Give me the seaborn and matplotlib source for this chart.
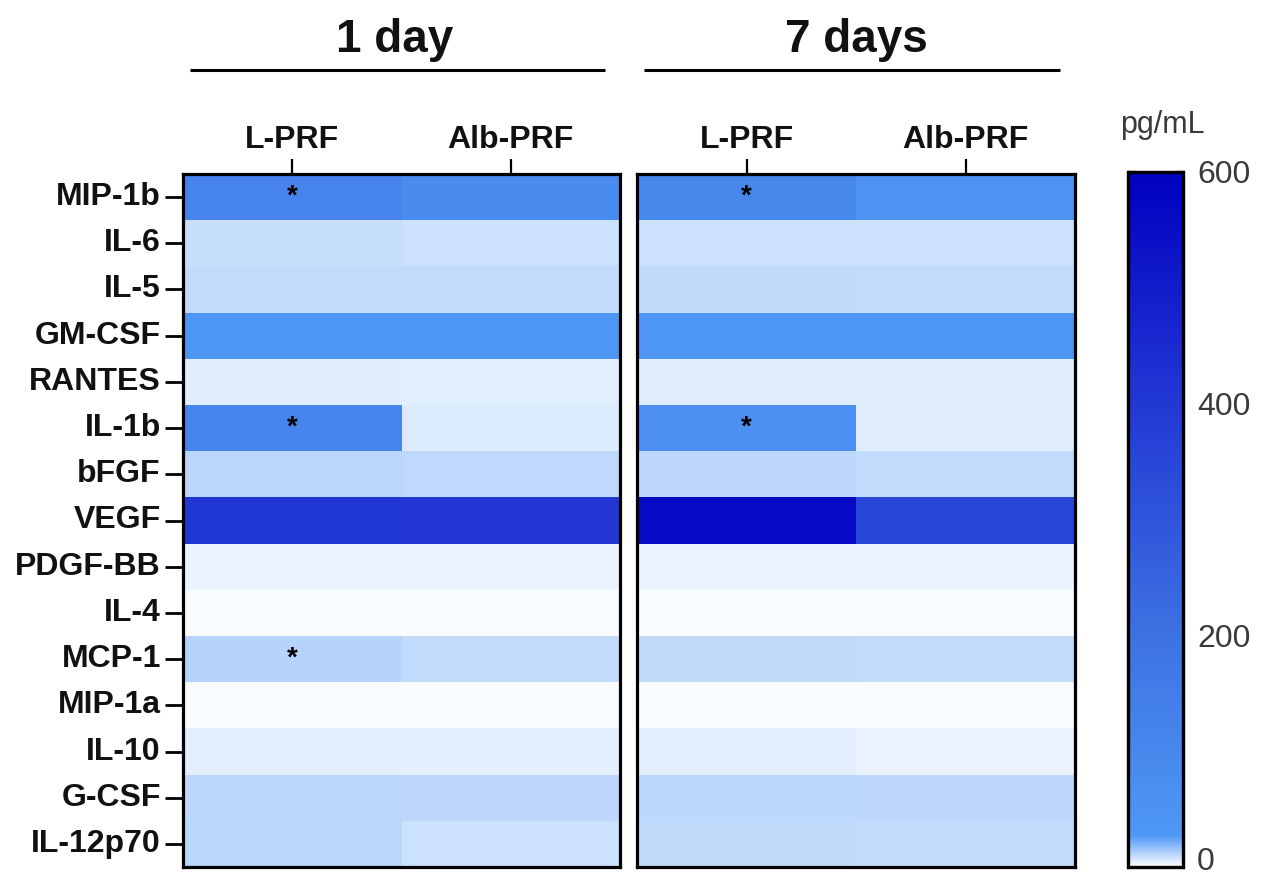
import numpy as np
import pandas as pd
import matplotlib
matplotlib.use("Agg")
import matplotlib.pyplot as plt
import matplotlib.transforms as mtransforms
from matplotlib.colors import LinearSegmentedColormap
import seaborn as sns

# ---- data (pg/mL) ----
cytokines = ["MIP-1b", "IL-6", "IL-5", "GM-CSF", "RANTES", "IL-1b", "bFGF", "VEGF",
             "PDGF-BB", "IL-4", "MCP-1", "MIP-1a", "IL-10", "G-CSF", "IL-12p70"]
groups = ["L-PRF", "Alb-PRF"]

day1_lprf = [115, 8.5, 9.6, 34, 4.8, 112, 10.6, 405, 3.3, 1.0, 11.5, 1.0, 4.5, 10.5, 10.7]
day1_alb = [85, 8.0, 9.6, 33, 4.6, 5.5, 10.0, 408, 3.2, 1.0, 9.6, 1.0, 4.0, 10.2, 7.9]
day7_lprf = [100, 8.0, 9.8, 34, 4.8, 62, 10.2, 565, 3.3, 1.0, 9.7, 1.0, 4.4, 10.4, 9.8]
day7_alb = [45, 8.0, 9.6, 34, 4.7, 5.0, 9.6, 350, 3.2, 1.0, 9.4, 1.0, 3.4, 10.2, 9.4]

# cytokines with a significant L-PRF vs Alb-PRF difference
sig_day1 = ["MIP-1b", "IL-1b", "MCP-1"]
sig_day7 = ["MIP-1b", "IL-1b"]

panel_titles = ["1 day", "7 days"]
cbar_ticks = [0, 200, 400, 600]
cbar_label = "pg/mL"

# ---- style ----
sns.set_theme(style="white")
plt.rcParams["font.family"] = ["Liberation Sans", "DejaVu Sans"]

cmap = LinearSegmentedColormap.from_list(
    "prism_blue",
    [(0.0, "#ffffff"), (0.045, "#4f98f6"), (0.33, "#3d72e2"),
     (0.67, "#2238d4"), (1.0, "#0000c0")], N=4096)

W, H = 1267, 876
fig = plt.figure(figsize=(W / 100, H / 100), dpi=100)


def fbox(x0, y0, x1, y1):
    return [x0 / W, 1 - y1 / H, (x1 - x0) / W, (y1 - y0) / H]


ax1 = fig.add_axes(fbox(183, 174, 620, 867))
ax2 = fig.add_axes(fbox(637, 174, 1075, 867))
cax = fig.add_axes(fbox(1128, 172, 1183, 867))

panels = [
    (ax1, day1_lprf, day1_alb, sig_day1, panel_titles[0], True, 0.485),
    (ax2, day7_lprf, day7_alb, sig_day7, panel_titles[1], False, 0.50),
]

for i, (ax, lprf, alb, sig, title, show_y, tx) in enumerate(panels):
    df = pd.DataFrame({groups[0]: lprf, groups[1]: alb}, index=cytokines)
    stars = pd.DataFrame({groups[0]: ["*" if c in sig else "" for c in cytokines],
                          groups[1]: [""] * len(cytokines)}, index=cytokines)
    sns.heatmap(df, ax=ax, cmap=cmap, vmin=0, vmax=600,
                cbar=(i == 0), cbar_ax=cax if i == 0 else None,
                annot=stars, fmt="",
                annot_kws=dict(size=20, color="black", fontweight="bold"),
                yticklabels=show_y)

    for sp in ax.spines.values():
        sp.set_visible(True)
        sp.set_color("black")
        sp.set_linewidth(2.3)

    ax.xaxis.tick_top()
    ax.set_xlabel("")
    ax.set_ylabel("")
    ax.tick_params(axis="x", top=True, bottom=False, length=11, width=1.6,
                   color="black", pad=3, labelsize=23, labelrotation=0)
    for lab in ax.get_xticklabels():
        lab.set_fontweight("bold")
        lab.set_color("#111111")
    if show_y:
        ax.tick_params(axis="y", left=True, length=13, width=2.0, color="black",
                       pad=3, labelsize=23, labelrotation=0)
        for lab in ax.get_yticklabels():
            lab.set_fontweight("bold")
            lab.set_color("#111111")
    else:
        ax.tick_params(axis="y", left=False, labelleft=False)

    # group header with underline
    ax.plot([0.016, 0.966], [1.150, 1.150], transform=ax.transAxes, color="black",
            lw=2.2, clip_on=False, solid_capstyle="butt")
    ax.text(tx, 1.176, title, transform=ax.transAxes, ha="center", va="baseline",
            fontsize=33, fontweight="bold", color="#111111")

# ---- colour bar ----
cax.set_yticks(cbar_ticks)
cax.tick_params(axis="y", which="both", direction="in", left=True, right=True,
                labelleft=False, labelright=True, length=6, width=1.6,
                color="black", pad=10, labelsize=23, labelcolor="#3a3a3a")
for sp in cax.spines.values():
    sp.set_visible(True)
    sp.set_linewidth(2.3)
    sp.set_color("black")
# nudge the bottom tick label up so it stays inside the figure
zero_lab = cax.get_yticklabels()[0]
zero_lab.set_transform(zero_lab.get_transform() +
                       mtransforms.ScaledTranslation(0, 8 / 100, fig.dpi_scale_trans))
fig.text(1120 / W, 1 - 133 / H, cbar_label, ha="left", va="baseline",
         fontsize=22, color="#3a3a3a")

fig.savefig("out.png", dpi=100)
